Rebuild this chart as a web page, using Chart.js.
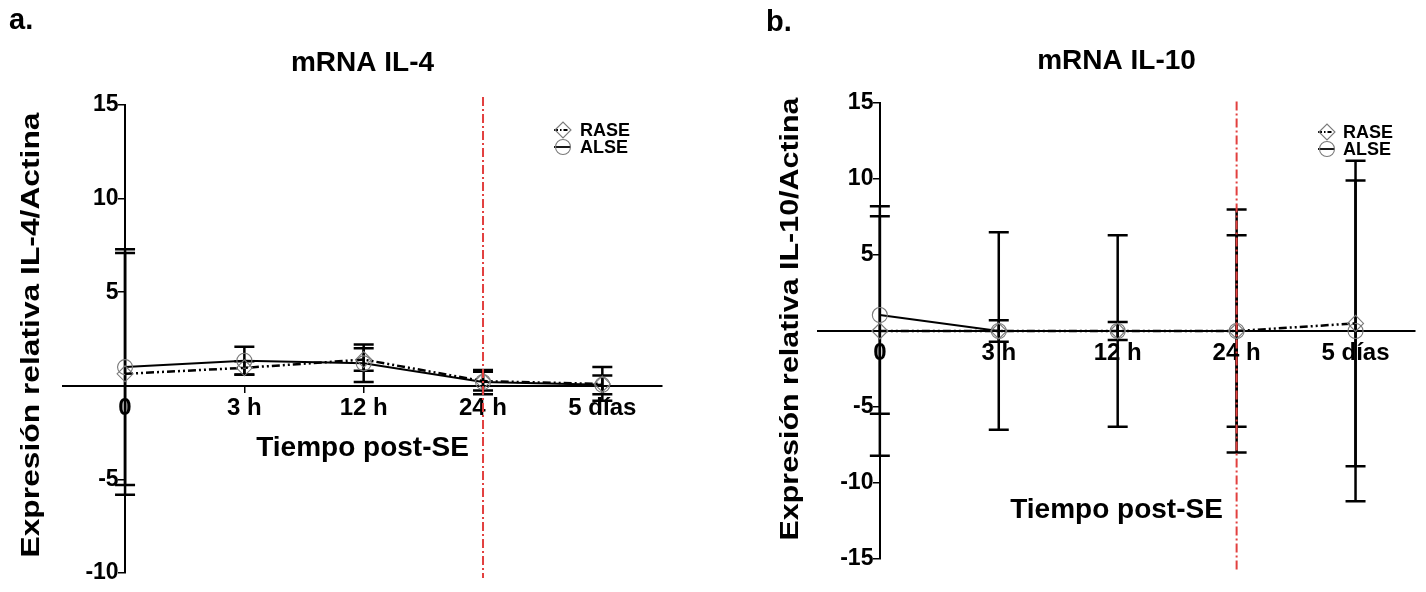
<!DOCTYPE html>
<html><head><meta charset="utf-8">
<script src="https://cdn.jsdelivr.net/npm/chart.js@4.4.1/dist/chart.umd.min.js"></script>
<style>
html,body{margin:0;padding:0;background:#fff;}
#wrap{position:relative;width:1426px;height:592px;overflow:hidden;background:#fff;}
canvas{position:absolute;top:0;}
#ca{left:0px;} #cb{left:713px;}
.plabel{position:absolute;font:bold 29px "Liberation Sans",Arial,sans-serif;line-height:29px;color:#000;}
</style></head><body>
<div id="wrap">
<canvas id="ca" width="713" height="592"></canvas>
<canvas id="cb" width="713" height="592"></canvas>
<div class="plabel" style="left:9px;top:5px">a.</div>
<div class="plabel" style="left:766px;top:7px">b.</div>
</div>
<script>
// ---------- data ----------
const categories = ['0', '3 h', '12 h', '24 h', '5 días'];
const seriesNames = ['RASE', 'ALSE'];

// mRNA IL-4 (mean and error, per category)
const il4RaseMean = [0.64, 0.96, 1.40, 0.25, 0.10];
const il4RaseErr  = [6.46, 0.35, 0.60, 0.50, 0.90];
const il4AlseMean = [1.00, 1.34, 1.20, 0.20, 0.05];
const il4AlseErr  = [6.30, 0.75, 1.00, 0.65, 0.50];

// mRNA IL-10
const il10RaseMean = [0.00, 0.00, 0.00, 0.00, 0.50];
const il10RaseErr  = [8.20, 0.70, 0.60, 8.00, 9.40];
const il10AlseMean = [1.05, 0.00, 0.00, 0.00, 0.00];
const il10AlseErr  = [6.50, 6.50, 6.30, 6.30, 11.20];

// y tick labels
const il4YTicks  = [-10, -5, 0, 5, 10, 15];
const il10YTicks = [-15, -10, -5, 0, 5, 10, 15];

// vertical reference line (dash-dot red) at 24 h
const markerCategory = '24 h';
const il4MarkerSpan  = [15.43, -10.27];
const il10MarkerSpan = [15.1, -15.7];

// ---------- plugins ----------
const FONT = '"Liberation Sans", Arial, Helvetica, sans-serif';
Chart.defaults.font.family = FONT;
Chart.defaults.font.weight = 'bold';
Chart.defaults.color = '#000';

const errorBars = {
  id: 'errorBars',
  beforeDatasetsDraw(chart, args, o) {
    const {ctx} = chart; const xs = chart.scales.x, ys = chart.scales.y;
    ctx.save();
    ctx.strokeStyle = '#000'; ctx.lineWidth = o.width || 2.5; ctx.setLineDash([]);
    chart.data.datasets.forEach(ds => {
      if (!ds.errors) return;
      ds.data.forEach((pt, i) => {
        const e = ds.errors[i]; if (e == null) return;
        const px = xs.getPixelForValue(pt.x);
        const yt = ys.getPixelForValue(pt.y + e), yb = ys.getPixelForValue(pt.y - e);
        const c = o.cap || 10;
        ctx.beginPath();
        ctx.moveTo(px, yt); ctx.lineTo(px, yb);
        ctx.moveTo(px - c, yt); ctx.lineTo(px + c, yt);
        ctx.moveTo(px - c, yb); ctx.lineTo(px + c, yb);
        ctx.stroke();
      });
    });
    ctx.restore();
  }
};

const yTitle = {
  id: 'yTitle',
  afterDraw(chart, args, o) {
    const {ctx} = chart;
    ctx.save();
    ctx.translate(o.x, o.y);
    ctx.rotate(-Math.PI / 2);
    ctx.font = 'bold ' + o.size + 'px ' + FONT;
    const w = ctx.measureText(o.text).width;
    ctx.scale(o.len / w, 1);
    ctx.fillStyle = '#000';
    ctx.textAlign = 'center'; ctx.textBaseline = 'middle';
    ctx.fillText(o.text, 0, 0);
    ctx.restore();
  }
};

const seriesLegend = {
  id: 'seriesLegend',
  afterDraw(chart, args, o) {
    const {ctx} = chart;
    const items = chart.data.datasets.filter(d => !d.isMarker);
    ctx.save();
    items.forEach((ds, k) => {
      const cx = o.x, cy = o.y + k * o.gap;
      ctx.strokeStyle = '#000'; ctx.lineWidth = 1.8;
      ctx.setLineDash(ds.pointStyle === 'rectRot' ? [4, 2, 1.5, 2] : []);
      ctx.beginPath(); ctx.moveTo(cx - 9, cy); ctx.lineTo(cx + (ds.pointStyle === 'rectRot' ? 5 : 8), cy); ctx.stroke();
      ctx.setLineDash([]);
      ctx.strokeStyle = '#7a7a7a'; ctx.lineWidth = 1.1;
      ctx.beginPath();
      if (ds.pointStyle === 'rectRot') {
        const r = 8;
        ctx.moveTo(cx - r, cy); ctx.lineTo(cx, cy - r); ctx.lineTo(cx + r, cy); ctx.lineTo(cx, cy + r); ctx.closePath();
      } else {
        ctx.arc(cx, cy, 7.5, 0, Math.PI * 2);
      }
      ctx.stroke();
      ctx.fillStyle = '#000';
      ctx.font = 'bold 18px ' + FONT;
      ctx.textAlign = 'left'; ctx.textBaseline = 'middle';
      ctx.fillText(ds.label, o.textX, cy + 1);
    });
    ctx.restore();
  }
};

// ---------- chart builder ----------
function buildConfig(p) {
  const pts = means => means.map((v, i) => ({x: i, y: v}));
  const mIdx = categories.indexOf(markerCategory);
  return {
    type: 'line',
    data: {
      datasets: [
        { label: 'marker', isMarker: true,
          data: [{x: mIdx, y: p.marker[0]}, {x: mIdx, y: p.marker[1]}],
          borderColor: '#e2403f', borderWidth: 2, borderDash: [9, 3, 2, 3],
          pointRadius: 0, clip: false, order: -1 },
        { label: seriesNames[0], data: pts(p.raseMean), errors: p.raseErr,
          borderColor: '#000', borderWidth: 2.5, borderDash: [8, 3, 2, 3, 2, 3],
          pointStyle: 'rectRot', pointRadius: 8, pointBorderColor: '#7a7a7a',
          pointBackgroundColor: 'rgba(0,0,0,0)', pointBorderWidth: 1.1, tension: 0 },
        { label: seriesNames[1], data: pts(p.alseMean), errors: p.alseErr,
          borderColor: '#000', borderWidth: 2,
          pointStyle: 'circle', pointRadius: 7.5, pointBorderColor: '#7a7a7a',
          pointBackgroundColor: 'rgba(0,0,0,0)', pointBorderWidth: 1.1, tension: 0 }
      ]
    },
    options: {
      responsive: false, animation: false, events: [],
      layout: { padding: p.pad },
      scales: {
        x: {
          type: 'linear', axis: 'x', position: {y: 0}, min: -0.52, max: 4.5,
          afterBuildTicks: s => { s.ticks = categories.map((c, i) => ({value: i})); },
          ticks: { callback: v => categories[v] !== undefined ? categories[v] : '',
                   font: {size: 24, weight: 'bold'}, color: '#000', padding: 2,
                   maxRotation: 0, autoSkip: false },
          grid: { display: true, drawOnChartArea: false, drawTicks: true, tickLength: 6,
                  color: '#000', lineWidth: 1.5 },
          border: { display: true, color: '#000', width: 2 },
          title: { display: true, text: 'Tiempo post-SE', color: '#000',
                   font: {size: 28, weight: 'bold'}, padding: {top: p.xTitlePad, bottom: 0} }
        },
        y: {
          type: 'linear', axis: 'y', position: {x: 0},
          min: p.yTicks[0], max: p.yTicks[p.yTicks.length - 1],
          afterBuildTicks: s => { s.ticks = p.yTicks.map(v => ({value: v})); },
          // trailing space keeps the label clear of the tick mark
          ticks: { callback: v => v === 0 ? '' : String(v) + ' ',
                   font: {size: 23, weight: 'bold'}, color: '#000', padding: 2 },
          grid: { display: true, drawOnChartArea: false, drawTicks: true, tickLength: 6,
                  color: '#000', lineWidth: 1.5 },
          border: { display: true, color: '#000', width: 2 }
        }
      },
      plugins: {
        legend: { display: false },
        tooltip: { enabled: false },
        title: { display: true, text: p.title, color: '#000',
                 font: {size: 28, weight: 'bold'}, padding: {top: 0, bottom: p.titlePadB} },
        errorBars: { width: 2.5, cap: 10 },
        yTitle: p.yTitle,
        seriesLegend: p.legend
      }
    },
    plugins: [errorBars, yTitle, seriesLegend]
  };
}

new Chart(document.getElementById('ca'), buildConfig({
  title: 'mRNA IL-4',
  raseMean: il4RaseMean, raseErr: il4RaseErr,
  alseMean: il4AlseMean, alseErr: il4AlseErr,
  yTicks: il4YTicks, marker: il4MarkerSpan,
  pad: {left: 63, right: 51, top: 46.2, bottom: 19},
  titlePadB: 25.2, xTitlePad: 6.4,
  yTitle: {text: 'Expresión relativa IL-4/Actina', x: 32, y: 335, size: 26, len: 445},
  legend: {x: 563, y: 130, gap: 17, textX: 580}
}));

new Chart(document.getElementById('cb'), buildConfig({
  title: 'mRNA IL-10',
  raseMean: il10RaseMean, raseErr: il10RaseErr,
  alseMean: il10AlseMean, alseErr: il10AlseErr,
  yTicks: il10YTicks, marker: il10MarkerSpan,
  pad: {left: 105, right: 11, top: 44.2, bottom: 33},
  titlePadB: 25.2, xTitlePad: 123.4,
  yTitle: {text: 'Expresión relativa IL-10/Actina', x: 78, y: 319, size: 26, len: 443},
  legend: {x: 614, y: 132, gap: 17, textX: 630}
}));
</script>
</body></html>
